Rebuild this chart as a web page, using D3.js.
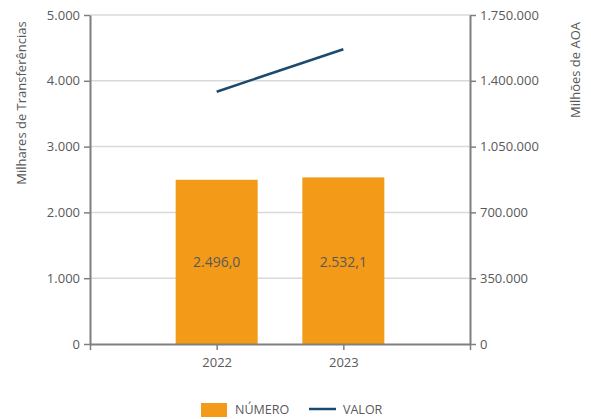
<!DOCTYPE html>
<html>
<head>
<meta charset="utf-8">
<script src="https://cdn.jsdelivr.net/npm/d3@7"></script>
<style>
  body { margin: 0; background: #fff; }
  text { font-family: "Open Sans", sans-serif; fill: #595959; }
</style>
</head>
<body>
<svg id="chart" width="591" height="419"></svg>
<script>
// data
const years = ["2022", "2023"];
const numero = [2496.0, 2532.1];          // milhares de transferências
const valor = [1342000, 1568000];          // milhões de AOA
const leftTicks = [0, 1000, 2000, 3000, 4000, 5000];
const rightTicks = [0, 350000, 700000, 1050000, 1400000, 1750000];

(function() {

const svg = d3.select("#chart");
const pt = d3.formatLocale({ decimal: ",", thousands: ".", grouping: [3], currency: ["", ""] });
const fmtInt = pt.format(",.0f");
const fmtDec = pt.format(",.1f");

const plotLeft = 90, plotRight = 470, plotTop = 15, plotBottom = 344;
const axisColor = "#7f7f7f";

// padded category slots so the years sit at the inner ticks
const slots = ["a", ...years, "b"];
const x = d3.scalePoint().domain(slots).range([plotLeft, plotRight]);
const y = d3.scaleLinear().domain([0, 5000]).range([plotBottom, plotTop]);
const y2 = d3.scaleLinear().domain([0, 1750000]).range([plotBottom, plotTop]);

// gridlines
svg.append("g")
    .selectAll("line")
    .data(leftTicks.filter(d => d > 0))
    .enter().append("line")
    .attr("x1", plotLeft).attr("x2", plotRight)
    .attr("y1", d => y(d)).attr("y2", d => y(d))
    .attr("stroke", "#d9d9d9")
    .attr("stroke-width", 1.5);

// bars
const barW = 82;
svg.append("g")
    .selectAll("rect")
    .data(years)
    .enter().append("rect")
    .attr("x", d => x(d) - barW / 2)
    .attr("width", barW)
    .attr("y", (d, i) => y(numero[i]))
    .attr("height", (d, i) => y(0) - y(numero[i]))
    .attr("fill", "#f39a18");

// bar labels
svg.append("g")
    .selectAll("text")
    .data(years)
    .enter().append("text")
    .attr("x", d => x(d))
    .attr("y", 267)
    .attr("text-anchor", "middle")
    .attr("font-size", 14)
    .text((d, i) => fmtDec(numero[i]));

// line
const line = d3.line()
    .x(d => x(d.year))
    .y(d => y2(d.v));
svg.append("path")
    .datum(years.map((d, i) => ({ year: d, v: valor[i] })))
    .attr("d", line)
    .attr("fill", "none")
    .attr("stroke", "#1b4a6e")
    .attr("stroke-width", 2.5);

// axes
function styleAxis(g) {
    g.selectAll("path.domain").attr("stroke", axisColor).attr("stroke-width", 2);
    g.selectAll(".tick line").attr("stroke", axisColor).attr("stroke-width", 1.5);
    g.selectAll(".tick text").attr("font-size", 13).attr("fill", "#595959")
        .style("font-family", "'Open Sans', sans-serif");
}

svg.append("g")
    .attr("transform", `translate(${plotLeft},0)`)
    .call(d3.axisLeft(y).tickValues(leftTicks).tickFormat(fmtInt).tickSize(6).tickSizeOuter(0).tickPadding(4))
    .call(styleAxis);

svg.append("g")
    .attr("transform", `translate(${plotRight},0)`)
    .call(d3.axisRight(y2).tickValues(rightTicks).tickFormat(fmtInt).tickSize(6).tickSizeOuter(0).tickPadding(4))
    .call(styleAxis);

svg.append("g")
    .attr("transform", `translate(0,${plotBottom})`)
    .call(d3.axisBottom(x).tickFormat(d => years.includes(d) ? d : "").tickSize(6).tickSizeOuter(0).tickPadding(8))
    .call(styleAxis);

// axis titles
svg.append("text")
    .attr("transform", "translate(26,103) rotate(-90)")
    .attr("text-anchor", "middle")
    .attr("font-size", 13)
    .text("Milhares de Transferências");

svg.append("text")
    .attr("transform", "translate(580,70) rotate(-90)")
    .attr("text-anchor", "middle")
    .attr("font-size", 13)
    .text("Milhões de AOA");

// legend
const legend = svg.append("g");
legend.append("rect")
    .attr("x", 201).attr("y", 403)
    .attr("width", 26).attr("height", 14)
    .attr("fill", "#f39a18");
legend.append("text")
    .attr("x", 235).attr("y", 414)
    .attr("font-size", 12.5)
    .text("NÚMERO");
legend.append("line")
    .attr("x1", 309).attr("x2", 336)
    .attr("y1", 409).attr("y2", 409)
    .attr("stroke", "#1b4a6e")
    .attr("stroke-width", 2.5);
legend.append("text")
    .attr("x", 343).attr("y", 414)
    .attr("font-size", 12.5)
    .text("VALOR");

})();
</script>
</body>
</html>
